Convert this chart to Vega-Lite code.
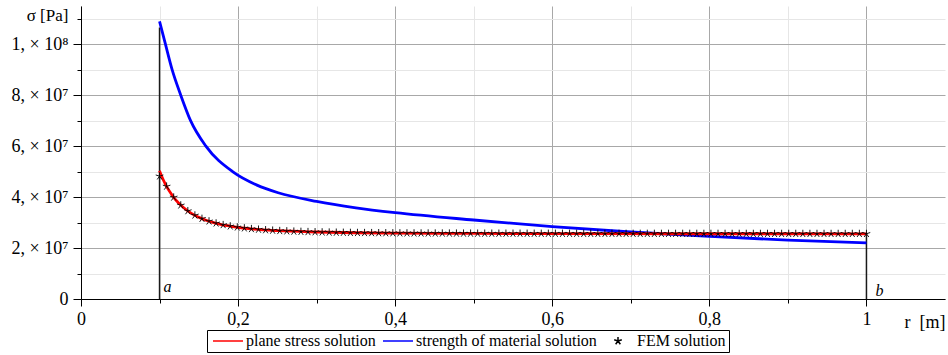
{
  "$schema": "https://vega.github.io/schema/vega-lite/v6.json",
  "width": 864,
  "height": 293,
  "autosize": {"type": "none"},
  "padding": {"left": 81, "top": 6, "right": 3, "bottom": 56},
  "background": "white",
  "config": {
    "view": {"stroke": null},
    "font": "Liberation Serif",
    "axis": {"labelFont": "Liberation Serif", "titleFont": "Liberation Serif", "labelColor": "black", "titleColor": "black", "domainColor": "black", "tickColor": "black", "titleFontWeight": "normal"},
    "legend": {"labelFont": "Liberation Serif", "labelColor": "black"}
  },
  "datasets": {
    "fem": [
      {"r": 0.1, "s": 4.82e7}, {"r": 0.109, "s": 4.42e7}, {"r": 0.118, "s": 3.99e7}, {"r": 0.127, "s": 3.68e7}, {"r": 0.136, "s": 3.455e7},
      {"r": 0.145, "s": 3.285e7}, {"r": 0.154, "s": 3.154e7}, {"r": 0.163, "s": 3.053e7}, {"r": 0.172, "s": 2.973e7}, {"r": 0.181, "s": 2.909e7},
      {"r": 0.19, "s": 2.857e7}, {"r": 0.199, "s": 2.815e7}, {"r": 0.208, "s": 2.78e7}, {"r": 0.217, "s": 2.752e7}, {"r": 0.226, "s": 2.728e7},
      {"r": 0.235, "s": 2.707e7}, {"r": 0.244, "s": 2.69e7}, {"r": 0.253, "s": 2.675e7}, {"r": 0.262, "s": 2.663e7}, {"r": 0.271, "s": 2.652e7},
      {"r": 0.28, "s": 2.643e7}, {"r": 0.289, "s": 2.634e7}, {"r": 0.298, "s": 2.627e7}, {"r": 0.307, "s": 2.621e7}, {"r": 0.316, "s": 2.615e7},
      {"r": 0.325, "s": 2.61e7}, {"r": 0.334, "s": 2.606e7}, {"r": 0.343, "s": 2.602e7}, {"r": 0.352, "s": 2.599e7}, {"r": 0.361, "s": 2.596e7},
      {"r": 0.37, "s": 2.593e7}, {"r": 0.379, "s": 2.59e7}, {"r": 0.388, "s": 2.588e7}, {"r": 0.397, "s": 2.586e7}, {"r": 0.406, "s": 2.584e7},
      {"r": 0.415, "s": 2.582e7}, {"r": 0.424, "s": 2.581e7}, {"r": 0.433, "s": 2.579e7}, {"r": 0.442, "s": 2.578e7}, {"r": 0.451, "s": 2.577e7},
      {"r": 0.46, "s": 2.576e7}, {"r": 0.469, "s": 2.575e7}, {"r": 0.478, "s": 2.574e7}, {"r": 0.487, "s": 2.573e7}, {"r": 0.496, "s": 2.572e7},
      {"r": 0.505, "s": 2.571e7}, {"r": 0.514, "s": 2.571e7}, {"r": 0.523, "s": 2.57e7}, {"r": 0.532, "s": 2.569e7}, {"r": 0.541, "s": 2.569e7},
      {"r": 0.55, "s": 2.568e7}, {"r": 0.559, "s": 2.568e7}, {"r": 0.568, "s": 2.567e7}, {"r": 0.577, "s": 2.567e7}, {"r": 0.586, "s": 2.566e7},
      {"r": 0.595, "s": 2.566e7}, {"r": 0.604, "s": 2.566e7}, {"r": 0.613, "s": 2.565e7}, {"r": 0.622, "s": 2.565e7}, {"r": 0.631, "s": 2.565e7},
      {"r": 0.64, "s": 2.564e7}, {"r": 0.649, "s": 2.564e7}, {"r": 0.658, "s": 2.564e7}, {"r": 0.667, "s": 2.564e7}, {"r": 0.676, "s": 2.564e7},
      {"r": 0.685, "s": 2.564e7}, {"r": 0.694, "s": 2.564e7}, {"r": 0.703, "s": 2.564e7}, {"r": 0.712, "s": 2.564e7}, {"r": 0.721, "s": 2.564e7},
      {"r": 0.73, "s": 2.564e7}, {"r": 0.739, "s": 2.563e7}, {"r": 0.748, "s": 2.563e7}, {"r": 0.757, "s": 2.563e7}, {"r": 0.766, "s": 2.563e7},
      {"r": 0.775, "s": 2.563e7}, {"r": 0.784, "s": 2.563e7}, {"r": 0.793, "s": 2.563e7}, {"r": 0.802, "s": 2.563e7}, {"r": 0.811, "s": 2.563e7},
      {"r": 0.82, "s": 2.563e7}, {"r": 0.829, "s": 2.562e7}, {"r": 0.838, "s": 2.562e7}, {"r": 0.847, "s": 2.562e7}, {"r": 0.856, "s": 2.562e7},
      {"r": 0.865, "s": 2.562e7}, {"r": 0.874, "s": 2.562e7}, {"r": 0.883, "s": 2.562e7}, {"r": 0.892, "s": 2.562e7}, {"r": 0.901, "s": 2.562e7},
      {"r": 0.91, "s": 2.562e7}, {"r": 0.919, "s": 2.561e7}, {"r": 0.928, "s": 2.561e7}, {"r": 0.937, "s": 2.561e7}, {"r": 0.946, "s": 2.561e7},
      {"r": 0.955, "s": 2.561e7}, {"r": 0.964, "s": 2.561e7}, {"r": 0.973, "s": 2.561e7}, {"r": 0.982, "s": 2.561e7}, {"r": 0.991, "s": 2.561e7},
      {"r": 1.0, "s": 2.561e7}
    ],
    "plane": [
      {"r": 0.1, "s": 5.03e7}, {"r": 0.105, "s": 4.66e7}, {"r": 0.11, "s": 4.36e7}, {"r": 0.115, "s": 4.12e7}, {"r": 0.12, "s": 3.91e7},
      {"r": 0.13, "s": 3.6e7}, {"r": 0.14, "s": 3.37e7}, {"r": 0.15, "s": 3.21e7}, {"r": 0.16, "s": 3.08e7}, {"r": 0.17, "s": 2.99e7},
      {"r": 0.18, "s": 2.91e7}, {"r": 0.19, "s": 2.86e7}, {"r": 0.2, "s": 2.81e7}, {"r": 0.22, "s": 2.74e7}, {"r": 0.25, "s": 2.68e7},
      {"r": 0.3, "s": 2.63e7}, {"r": 0.35, "s": 2.6e7}, {"r": 0.4, "s": 2.585e7}, {"r": 0.5, "s": 2.572e7}, {"r": 0.6, "s": 2.566e7},
      {"r": 0.8, "s": 2.562e7}, {"r": 1.0, "s": 2.56e7}
    ],
    "strength": [
      {"r": 0.1, "s": 10.9e7}, {"r": 0.1075, "s": 10.0e7}, {"r": 0.116, "s": 9.0e7}, {"r": 0.127, "s": 8.0e7}, {"r": 0.1395, "s": 7.0e7},
      {"r": 0.159, "s": 6.0e7}, {"r": 0.193, "s": 5.0e7}, {"r": 0.224, "s": 4.47e7}, {"r": 0.251, "s": 4.17e7},
      {"r": 0.3, "s": 3.83e7}, {"r": 0.35, "s": 3.58e7}, {"r": 0.4, "s": 3.39e7}, {"r": 0.5, "s": 3.1e7}, {"r": 0.6, "s": 2.84e7},
      {"r": 0.7, "s": 2.63e7}, {"r": 0.8, "s": 2.46e7}, {"r": 0.9, "s": 2.31e7}, {"r": 1.0, "s": 2.2e7}
    ],
    "bounds": [
      {"r": 0.1, "s": 0, "top": 10.66e7, "lab": "a"},
      {"r": 1.0, "s": 0, "top": 2.6e7, "lab": "b"}
    ]
  },
  "encoding": {
    "x": {
      "field": "r", "type": "quantitative",
      "scale": {"domain": [0, 1.1], "nice": false, "zero": false},
      "axis": {
        "values": [0, 0.1, 0.2, 0.3, 0.4, 0.5, 0.6, 0.7, 0.8, 0.9, 1.0],
        "labelExpr": "round(datum.value * 10) % 2 == 0 ? replace('' + datum.value, '.', ',') : ''",
        "labelFontSize": 18, "labelPadding": 4, "labelFlush": false,
        "grid": true,
        "gridColor": {"condition": {"test": "round(datum.value * 10) % 2 == 0", "value": "#a8a8a8"}, "value": "#e6e6e6"},
        "tickSize": {"condition": {"test": "round(datum.value * 10) % 2 == 0", "value": 7}, "value": 4},
        "title": "r\u00a0\u00a0[m]", "titleFontSize": 18, "titleAlign": "right", "titleBaseline": "alphabetic",
        "titleX": 864, "titleY": 28, "titleAnchor": null
      }
    },
    "y": {
      "field": "s", "type": "quantitative",
      "scale": {"domain": [0, 1.15e8], "nice": false},
      "axis": {
        "values": [0, 1e7, 2e7, 3e7, 4e7, 5e7, 6e7, 7e7, 8e7, 9e7, 1e8, 1.1e8],
        "labelExpr": "datum.value == 0 ? '0' : round(datum.value / 1e7) % 2 == 1 ? '' : datum.value >= 1e8 ? '1, × 10⁸' : round(datum.value / 1e7) + ', × 10⁷'",
        "labelFontSize": 18, "labelPadding": 5,
        "grid": true,
        "gridColor": {"condition": {"test": "round(datum.value / 1e7) % 2 == 0", "value": "#a8a8a8"}, "value": "#e6e6e6"},
        "tickSize": {"condition": {"test": "round(datum.value / 1e7) % 2 == 0", "value": 8}, "value": 4},
        "title": "σ [Pa]", "titleFontSize": 17, "titleAngle": 0, "titleAlign": "center", "titleBaseline": "middle",
        "titleX": -34, "titleY": 9
      }
    }
  },
  "layer": [
    {
      "data": {"name": "bounds"},
      "mark": {"type": "rule", "color": "#1a1a1a", "strokeWidth": 1.5},
      "encoding": {"y2": {"field": "top"}}
    },
    {
      "data": {"name": "bounds"},
      "transform": [{"filter": "datum.lab == 'a'"}],
      "mark": {"type": "text", "align": "left", "baseline": "alphabetic", "dx": 4, "dy": -7, "fontStyle": "italic", "fontSize": 16, "font": "Liberation Serif"},
      "encoding": {"text": {"field": "lab"}}
    },
    {
      "data": {"name": "bounds"},
      "transform": [{"filter": "datum.lab == 'b'"}],
      "mark": {"type": "text", "align": "left", "baseline": "alphabetic", "dx": 9, "dy": -3, "fontStyle": "italic", "fontSize": 16, "font": "Liberation Serif"},
      "encoding": {"text": {"field": "lab"}}
    },
    {
      "data": {"name": "strength"},
      "transform": [{"calculate": "'strength of material solution'", "as": "series"}],
      "mark": {"type": "line", "strokeWidth": 2.8, "interpolate": "monotone"},
      "encoding": {"color": {"field": "series", "type": "nominal"}}
    },
    {
      "data": {"name": "plane"},
      "transform": [{"calculate": "'plane stress solution'", "as": "series"}],
      "mark": {"type": "line", "strokeWidth": 2.8, "interpolate": "monotone"},
      "encoding": {"color": {"field": "series", "type": "nominal"}}
    },
    {
      "data": {"name": "fem"},
      "transform": [{"calculate": "'FEM solution'", "as": "series"}],
      "mark": {"type": "point", "filled": false, "strokeWidth": 0.9, "size": 100, "opacity": 1, "xOffset": -9},
      "encoding": {
        "color": {
          "field": "series", "type": "nominal",
          "scale": {"domain": ["plane stress solution", "strength of material solution", "FEM solution"], "range": ["#ff0000", "#0000ff", "#000000"]},
          "legend": {
            "orient": "none", "legendX": 126, "legendY": 324, "direction": "horizontal", "title": null,
            "strokeColor": "black", "padding": 3, "fillColor": "white",
            "labelFontSize": 16, "labelOffset": 20, "labelLimit": 0, "columnPadding": 4, "symbolSize": 100,
            "encode": {"symbols": {"update": {
              "strokeWidth": {"signal": "datum.value == 'FEM solution' ? 0.9 : 3"},
              "fill": {"value": "transparent"},
              "stroke": {"scale": "color", "field": "value"}
            }}}
          }
        },
        "shape": {
          "field": "series", "type": "nominal",
          "scale": {"domain": ["plane stress solution", "strength of material solution", "FEM solution"], "range": ["M-1,0L5,0", "M-1,0L5,0", "M1.8,0L1.8,-0.8M1.8,0L2.56,-0.25M1.8,0L2.27,0.65M1.8,0L1.33,0.65M1.8,0L1.04,-0.25"]},
          "legend": {
            "orient": "none", "legendX": 126, "legendY": 324, "direction": "horizontal", "title": null,
            "strokeColor": "black", "padding": 3, "fillColor": "white",
            "labelFontSize": 16, "labelOffset": 20, "labelLimit": 0, "columnPadding": 4, "symbolSize": 100,
            "encode": {"symbols": {"update": {
              "strokeWidth": {"signal": "datum.value == 'FEM solution' ? 0.9 : 3"},
              "fill": {"value": "transparent"},
              "stroke": {"scale": "color", "field": "value"}
            }}}
          }
        }
      }
    }
  ]
}
